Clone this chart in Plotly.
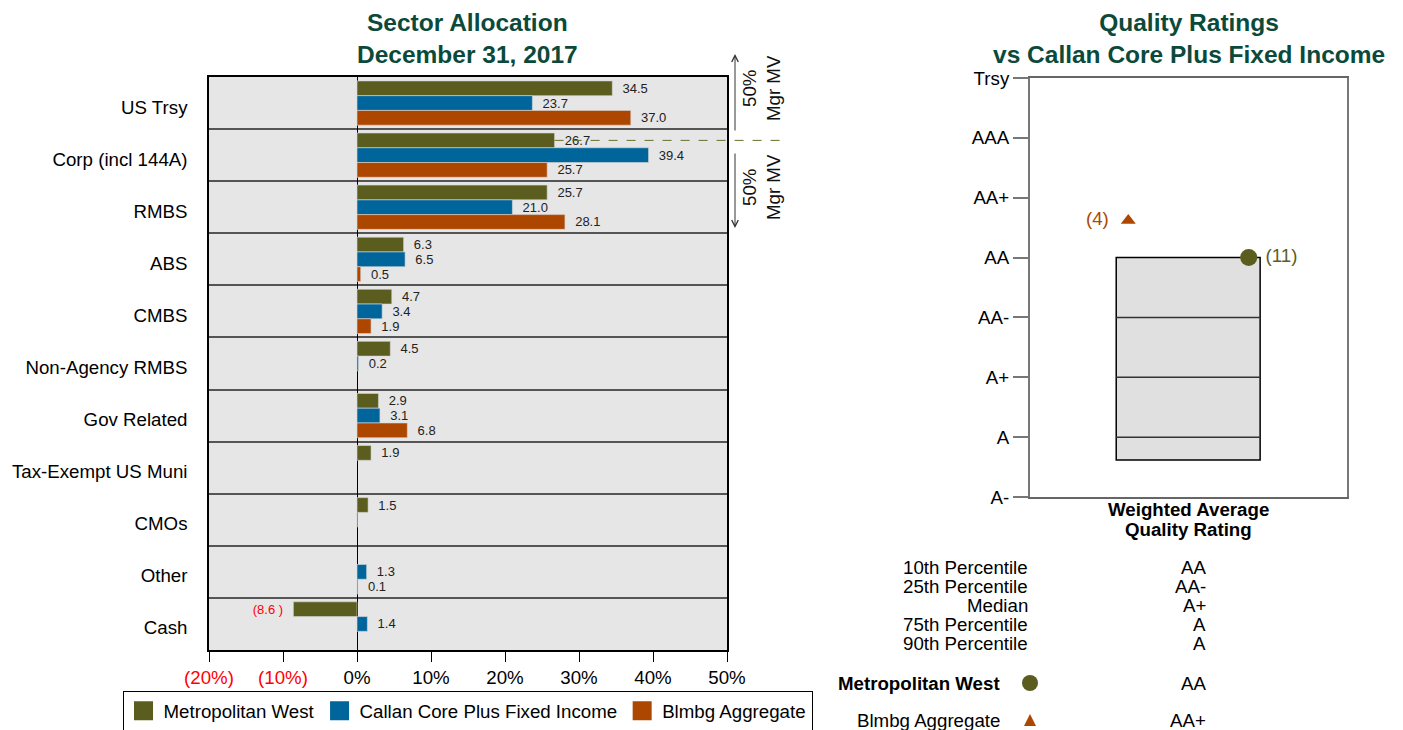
import plotly.graph_objects as go

# ---------------- data ----------------
categories = ["US Trsy", "Corp (incl 144A)", "RMBS", "ABS", "CMBS", "Non-Agency RMBS",
              "Gov Related", "Tax-Exempt US Muni", "CMOs", "Other", "Cash"]
metwest = [34.5, 26.7, 25.7, 6.3, 4.7, 4.5, 2.9, 1.9, 1.5, None, -8.6]
callan = [23.7, 39.4, 21.0, 6.5, 3.4, 0.2, 3.1, None, 0.04, 1.3, 1.4]
blmbg = [37.0, 25.7, 28.1, 0.5, 1.9, None, 6.8, None, None, 0.1, None]
series_names = ["Metropolitan West", "Callan Core Plus Fixed Income", "Blmbg Aggregate"]
series_colors = ["#5b5d1f", "#00659b", "#ad4700"]

x_tickvals = [-20, -10, 0, 10, 20, 30, 40, 50]

rating_labels = ["A-", "A", "A+", "AA-", "AA", "AA+", "AAA", "Trsy"]
pct_labels = ["10th Percentile", "25th Percentile", "Median", "75th Percentile", "90th Percentile"]
pct_values = [4.0, 3.0, 2.0, 1.0, 0.62]
met_rating, met_rank = 4.0, 11
blmbg_rating, blmbg_rank = 4.62, 4

# ---------------- layout helpers ----------------
W, H = 1403, 730
OFF = 8  # page body margin
FONT = "Liberation Sans, Arial, sans-serif"
TITLE_COLOR = "#0b4a3b"
FS = 18.7


def px(x):
    return (x - OFF) / W


def py(y):
    return 1 - (y - OFF) / H


LX = [px(209), px(727)]
LY = [py(650), py(77)]
RX = [px(1030), px(1347)]
RY = [py(497), py(78)]
XMIN, XMAX = -20, 50
BARGAP = 0.15

fig = go.Figure()


def fmt(v):
    if v is None or abs(v) < 0.1:
        return None
    if v < 0:
        return "(%.1f )\u00a0\u00a0" % abs(v)
    return "\u00a0\u00a0%.1f" % v


for name, vals, col in zip(series_names, [metwest, callan, blmbg], series_colors):
    fig.add_trace(go.Bar(
        y=categories, x=vals, orientation="h", name=name,
        marker=dict(color=col, line=dict(width=0.6, color="#d8d8d8")),
        text=[fmt(v) for v in vals],
        textposition="outside", constraintext="none", cliponaxis=False,
        textfont=dict(size=13, family=FONT,
                      color=["red" if (v is not None and v < 0) else "#222" for v in vals]),
        showlegend=False, hoverinfo="x+y",
        xaxis="x", yaxis="y",
    ))
    # legend entries (larger square symbols)
    fig.add_trace(go.Scatter(
        x=[None], y=[None], mode="markers", name=name,
        marker=dict(symbol="square", size=16, color=col, line=dict(width=3, color=col)),
        xaxis="x", yaxis="y", showlegend=True,
    ))

# right chart markers
fig.add_trace(go.Scatter(
    x=[0.69], y=[met_rating], mode="markers+text", text=["\u00a0(%d)" % met_rank],
    textposition="middle right", textfont=dict(size=FS, color="#5b5d1f", family=FONT),
    marker=dict(symbol="circle", size=17, color="#5b5d1f"),
    xaxis="x2", yaxis="y2", showlegend=False, cliponaxis=False,
))
fig.add_trace(go.Scatter(
    x=[0.31], y=[blmbg_rating], mode="markers+text", text=["(%d)\u00a0\u00a0" % blmbg_rank],
    textposition="middle left", textfont=dict(size=FS, color="#ad4700", family=FONT),
    marker=dict(symbol="triangle-up", size=13, color="#ad4700"),
    xaxis="x2", yaxis="y2", showlegend=False, cliponaxis=False,
))

shapes = []
annotations = []

# left plot background
shapes.append(dict(type="rect", xref="x domain", yref="y domain", x0=0, x1=1, y0=0, y1=1,
                   fillcolor="#e6e6e6", line=dict(width=0), layer="below"))

# dashed line from Corp Met West bar end
grp = 1 - BARGAP
bar_off = -grp / 2 + grp / 6
ycat = 1 + bar_off
yfrac = (len(categories) - 0.5 - ycat) / len(categories)
x0frac = (metwest[1] - XMIN) / (XMAX - XMIN)
shapes.append(dict(type="line", xref="x domain", yref="y domain",
                   x0=x0frac, x1=(780 - 209) / (727 - 209), y0=yfrac, y1=yfrac,
                   line=dict(color="#6b6d2a", width=1, dash="dash"), layer="above"))

# quality box
shapes.append(dict(type="rect", xref="x2", yref="y2", x0=0.272, x1=0.726,
                   y0=pct_values[-1], y1=pct_values[0], fillcolor="#e0e0e0",
                   line=dict(color="black", width=1.5), layer="below"))
for v in pct_values[1:-1]:
    shapes.append(dict(type="line", xref="x2", yref="y2", x0=0.272, x1=0.726, y0=v, y1=v,
                       line=dict(color="#333", width=1.5)))

# table markers
r = 8
shapes.append(dict(type="circle", xref="paper", yref="paper",
                   x0=px(1030 - r), x1=px(1030 + r), y0=py(683 + r), y1=py(683 - r),
                   fillcolor="#5b5d1f", line=dict(width=0)))
tri = "M %f,%f L %f,%f L %f,%f Z" % (px(1024), py(726), px(1036), py(726), px(1030), py(714))
shapes.append(dict(type="path", xref="paper", yref="paper", path=tri,
                   fillcolor="#ad4700", line=dict(width=0)))

# titles
annotations.append(dict(xref="paper", yref="paper", x=(LX[0] + LX[1]) / 2, y=py(7),
                        xanchor="center", yanchor="top", showarrow=False,
                        text="<b>Sector Allocation</b><br><b>December 31, 2017</b>",
                        font=dict(size=24.5, color=TITLE_COLOR, family=FONT)))
annotations.append(dict(xref="paper", yref="paper", x=(RX[0] + RX[1]) / 2, y=py(7),
                        xanchor="center", yanchor="top", showarrow=False,
                        text="<b>Quality Ratings</b><br><b>vs Callan Core Plus Fixed Income</b>",
                        font=dict(size=24.5, color=TITLE_COLOR, family=FONT)))

# arrows and 50% Mgr MV texts
annotations.append(dict(xref="paper", yref="paper", x=px(735), y=py(54), ax=0, ay=78,
                        text="", showarrow=True, arrowhead=5, arrowsize=1.3, arrowwidth=1,
                        arrowcolor="#333"))
annotations.append(dict(xref="paper", yref="paper", x=px(735), y=py(228), ax=0, ay=-76,
                        text="", showarrow=True, arrowhead=5, arrowsize=1.3, arrowwidth=1,
                        arrowcolor="#333"))
for yc in (88, 187):
    annotations.append(dict(xref="paper", yref="paper", x=px(761), y=py(yc),
                            xanchor="center", yanchor="middle", showarrow=False,
                            text="50%<br>Mgr MV", textangle=-90,
                            font=dict(size=FS, color="#111", family=FONT)))

# right axis title
annotations.append(dict(xref="x2 domain", yref="paper", x=0.5, y=py(510),
                        xanchor="center", yanchor="middle", showarrow=False,
                        text="<b>Weighted Average</b>", font=dict(size=FS, color="black", family=FONT)))
annotations.append(dict(xref="x2 domain", yref="paper", x=0.5, y=py(529),
                        xanchor="center", yanchor="middle", showarrow=False,
                        text="<b>Quality Rating</b>", font=dict(size=FS, color="black", family=FONT)))

# percentile table
for i, (lab, v) in enumerate(zip(pct_labels, pct_values)):
    yy = py(567 + 19 * i)
    annotations.append(dict(xref="paper", yref="paper", x=px(1030), y=yy, xanchor="right",
                            yanchor="middle", showarrow=False, text=lab,
                            font=dict(size=FS, color="black", family=FONT)))
    annotations.append(dict(xref="paper", yref="paper", x=px(1208), y=yy, xanchor="right",
                            yanchor="middle", showarrow=False, text=rating_labels[int(round(v))],
                            font=dict(size=FS, color="black", family=FONT)))
annotations.append(dict(xref="paper", yref="paper", x=px(1002), y=py(683), xanchor="right",
                        yanchor="middle", showarrow=False, text="<b>Metropolitan West</b>",
                        font=dict(size=FS, color="black", family=FONT)))
annotations.append(dict(xref="paper", yref="paper", x=px(1208), y=py(683), xanchor="right",
                        yanchor="middle", showarrow=False, text=rating_labels[int(round(met_rating))],
                        font=dict(size=FS, color="black", family=FONT)))
annotations.append(dict(xref="paper", yref="paper", x=px(1002), y=py(720), xanchor="right",
                        yanchor="middle", showarrow=False, text="Blmbg Aggregate",
                        font=dict(size=FS, color="black", family=FONT)))
annotations.append(dict(xref="paper", yref="paper", x=px(1208), y=py(720), xanchor="right",
                        yanchor="middle", showarrow=False, text=rating_labels[int(round(blmbg_rating))],
                        font=dict(size=FS, color="black", family=FONT)))


def tick_text(v):
    if v < 0:
        return "<span style='color:red'>(%d%%)</span>" % abs(v)
    return "%d%%" % v


fig.update_layout(
    width=W, height=H, autosize=False,
    margin=dict(l=0, r=0, t=0, b=0, pad=0),
    paper_bgcolor="white", plot_bgcolor="rgba(0,0,0,0)",
    font=dict(family=FONT, size=FS, color="black"),
    barmode="group", bargap=BARGAP, bargroupgap=0,
    xaxis=dict(domain=LX, range=[XMIN, XMAX], tickvals=x_tickvals,
               ticktext=[tick_text(v) for v in x_tickvals],
               ticks="outside", ticklen=10, tickcolor="black", tickwidth=1,
               showline=True, mirror=True, linecolor="black", linewidth=1.5,
               showgrid=False, zeroline=True, zerolinecolor="black", zerolinewidth=1,
               tickfont=dict(size=FS), anchor="y", automargin=False),
    yaxis=dict(domain=LY, type="category", categoryorder="array", categoryarray=categories,
               range=[len(categories) - 0.5, -0.5], tickson="boundaries", ticks="",
               showgrid=True, gridcolor="#555", gridwidth=1.5,
               showline=True, mirror=True, linecolor="black", linewidth=1.5,
               tickfont=dict(size=FS), ticklabelstandoff=16, ticklabelshift=-4,
               anchor="x", automargin=False),
    xaxis2=dict(domain=RX, range=[0, 1], showticklabels=False, ticks="",
                showline=True, mirror=True, linecolor="#666", linewidth=1.5,
                showgrid=False, zeroline=False, anchor="y2", automargin=False),
    yaxis2=dict(domain=RY, range=[0, 7], tickvals=list(range(8)), ticktext=rating_labels,
                ticks="outside", ticklen=15, tickcolor="#777", tickwidth=1.5,
                showline=True, mirror=True, linecolor="#777", linewidth=2,
                showgrid=False, zeroline=False, tickfont=dict(size=FS), anchor="x2",
                automargin=False),
    legend=dict(orientation="h", x=(px(120) + px(815)) / 2, xanchor="center",
                y=py(691), yanchor="top", bordercolor="black", borderwidth=1,
                bgcolor="white", font=dict(size=FS), itemsizing="trace",
                tracegroupgap=0),
    shapes=shapes, annotations=annotations,
)

fig.write_html("out.html")
